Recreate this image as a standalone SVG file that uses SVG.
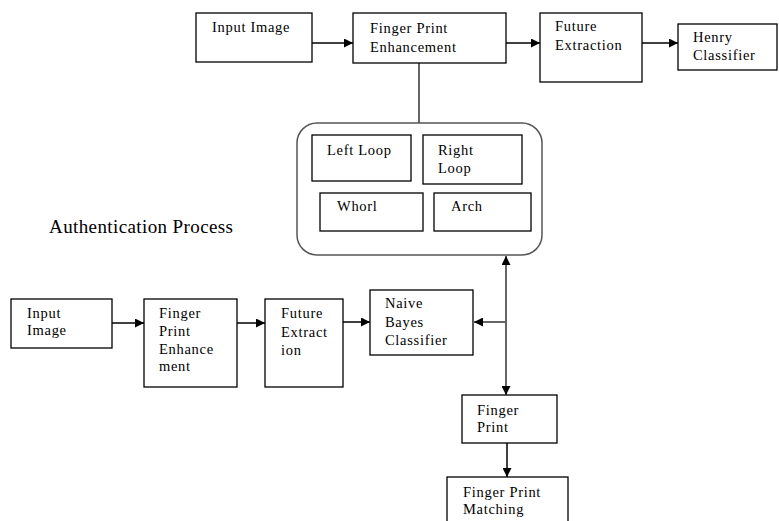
<svg xmlns="http://www.w3.org/2000/svg" width="779" height="521" viewBox="0 0 779 521">
<style>
.b{fill:#fff;stroke:#000;stroke-width:1.3}
.t{font-family:"Liberation Serif","Times New Roman",serif;font-size:14.5px;letter-spacing:0.7px;fill:#000}
.c{stroke:#000;stroke-width:1.5;fill:none}
.g{stroke:#555;stroke-width:1.8;fill:none}
</style>
<defs>
<marker id="a" viewBox="0 0 10 10" refX="10" refY="5" markerWidth="10" markerHeight="9" markerUnits="userSpaceOnUse" orient="auto">
<path d="M0,0 L10,5 L0,10 z" fill="#000"/>
</marker>
</defs>
<rect width="779" height="521" fill="#fff"/>
<g id="connectors">
<line class="c" x1="312" y1="43" x2="353" y2="43" marker-end="url(#a)"/>
<line class="c" x1="506" y1="43" x2="540" y2="43" marker-end="url(#a)"/>
<line class="c" x1="642" y1="43" x2="678" y2="43" marker-end="url(#a)"/>
<line class="g" x1="419" y1="63" x2="419" y2="123"/>
<line class="c" x1="112" y1="323" x2="144" y2="323" marker-end="url(#a)"/>
<line class="c" x1="237" y1="323" x2="265" y2="323" marker-end="url(#a)"/>
<line class="c" x1="343" y1="322" x2="370" y2="322" marker-end="url(#a)"/>
<line class="g" x1="506" y1="322" x2="474" y2="322" marker-end="url(#a)"/>
<line class="g" x1="506" y1="300" x2="506" y2="256" marker-end="url(#a)"/>
<line class="g" x1="506" y1="300" x2="506" y2="395" marker-end="url(#a)"/>
<line class="c" x1="507" y1="443" x2="507" y2="477" marker-end="url(#a)"/>
</g>
<g id="input1"><rect class="b" x="196" y="13" width="116" height="49"/><text class="t" x="212" y="32">Input Image</text></g>
<g id="enh1"><rect class="b" x="353" y="13" width="153" height="50"/><text class="t" x="370" y="33">Finger Print</text><text class="t" x="370" y="52">Enhancement</text></g>
<g id="ext1"><rect class="b" x="540" y="13" width="102" height="69"/><text class="t" x="555" y="31">Future</text><text class="t" x="555" y="50">Extraction</text></g>
<g id="henry"><rect class="b" x="678" y="24" width="99" height="46"/><text class="t" x="693" y="42">Henry</text><text class="t" x="693" y="60">Classifier</text></g>
<g id="classes">
<rect x="297" y="123" width="245" height="132" rx="20" ry="20" fill="#fff" stroke="#555" stroke-width="1.5"/>
<g id="leftloop"><rect class="b" x="312" y="135" width="99" height="46"/><text class="t" x="327" y="155">Left Loop</text></g>
<g id="rightloop"><rect class="b" x="423" y="135" width="99" height="49"/><text class="t" x="438" y="155">Right</text><text class="t" x="438" y="173">Loop</text></g>
<g id="whorl"><rect class="b" x="320" y="193" width="103" height="38"/><text class="t" x="337" y="211">Whorl</text></g>
<g id="arch"><rect class="b" x="434" y="193" width="97" height="38"/><text class="t" x="451" y="211">Arch</text></g>
</g>
<text x="49" y="233" font-family="Liberation Serif, Times New Roman, serif" font-size="19" textLength="184" lengthAdjust="spacing">Authentication Process</text>
<g id="input2"><rect class="b" x="11" y="299" width="101" height="49"/><text class="t" x="27" y="318">Input</text><text class="t" x="27" y="335">Image</text></g>
<g id="enh2"><rect class="b" x="144" y="299" width="93" height="88"/><text class="t" x="159" y="318">Finger</text><text class="t" x="159" y="336">Print</text><text class="t" x="159" y="354">Enhance</text><text class="t" x="159" y="371">ment</text></g>
<g id="ext2"><rect class="b" x="265" y="299" width="78" height="88"/><text class="t" x="281" y="318">Future</text><text class="t" x="281" y="337">Extract</text><text class="t" x="281" y="355">ion</text></g>
<g id="naive"><rect class="b" x="370" y="290" width="103" height="65"/><text class="t" x="385" y="308">Naive</text><text class="t" x="385" y="327">Bayes</text><text class="t" x="385" y="345">Classifier</text></g>
<g id="fp"><rect class="b" x="462" y="395" width="95" height="48"/><text class="t" x="477" y="415">Finger</text><text class="t" x="477" y="432">Print</text></g>
<g id="fpm"><rect class="b" x="447" y="477" width="121" height="50"/><text class="t" x="463" y="497">Finger Print</text><text class="t" x="463" y="514">Matching</text></g>
</svg>
